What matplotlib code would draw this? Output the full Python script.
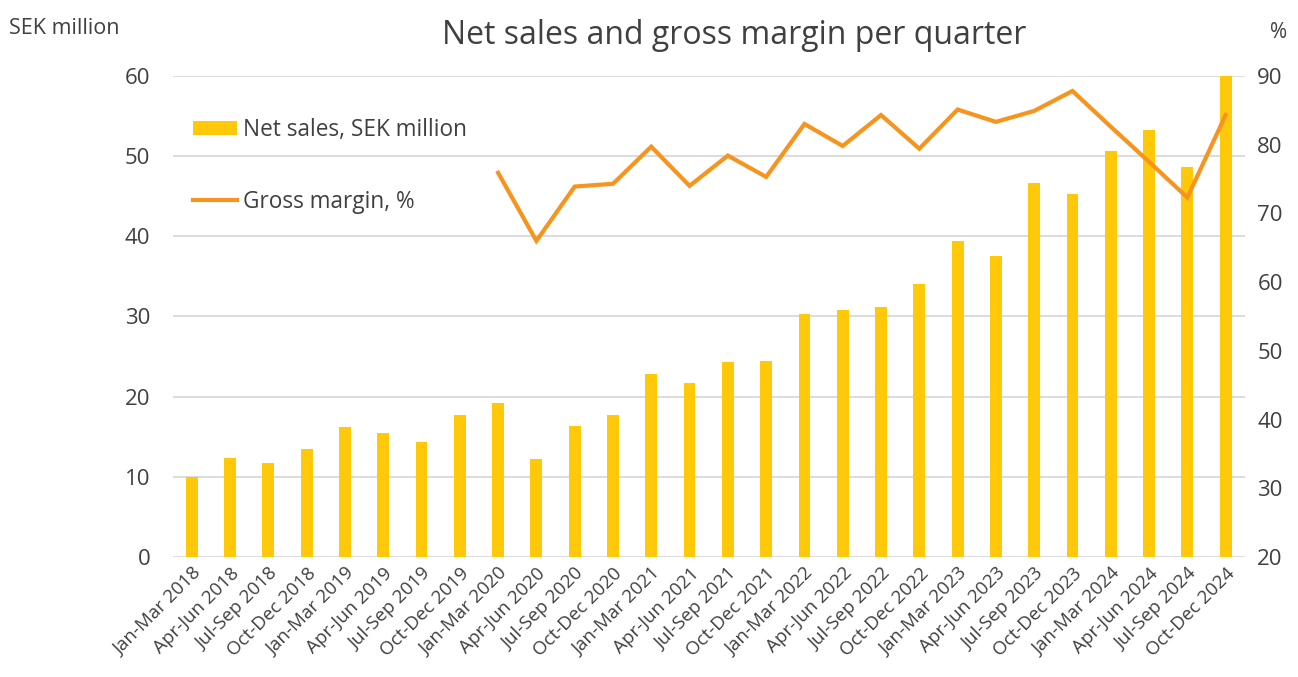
import matplotlib.pyplot as plt
import numpy as np

# Quarter labels
quarters = []
for year in range(2018, 2025):
    for q in ["Jan-Mar", "Apr-Jun", "Jul-Sep", "Oct-Dec"]:
        quarters.append(f"{q} {year}")

# Net sales, SEK million
net_sales = [10.0, 12.4, 11.8, 13.5, 16.2, 15.5, 14.4, 17.7,
             19.2, 12.2, 16.4, 17.7, 22.8, 21.7, 24.3, 24.5,
             30.3, 30.8, 31.2, 34.1, 39.4, 37.6, 46.6, 45.3,
             50.6, 53.2, 48.6, 60.0]

# Gross margin, % (starts Jan-Mar 2020)
gross_margin = [None] * 8 + [75.9, 66.0, 73.9, 74.3, 79.7, 74.0, 78.4, 75.3,
                             83.0, 79.8, 84.3, 79.4, 85.1, 83.3, 84.9, 87.8,
                             82.6, 77.5, 72.3, 84.3]

bar_color = "#FFC90A"
line_color = "#F7941D"
text_color = "#404040"
grid_color = "#D9D9D9"

plt.rcParams['font.family'] = ['Open Sans', 'DejaVu Sans']

fig = plt.figure(figsize=(12.98, 6.77), dpi=100)
ax = fig.add_axes([0.133, 0.177, 0.826, 0.711])
ax2 = ax.twinx()

x = np.arange(len(quarters))
ax.bar(x, net_sales, width=0.31, color=bar_color, label="Net sales, SEK million", zorder=2)

gm = np.array([np.nan if v is None else v for v in gross_margin], dtype=float)
ax2.plot(x, gm, color=line_color, linewidth=3.0, label="Gross margin, %",
         solid_joinstyle='miter', zorder=3)

ax.set_xlim(-0.5, len(quarters) - 0.5)
ax.set_ylim(0, 60)
ax.set_yticks(range(0, 61, 10))
ax2.set_ylim(20, 90)
ax2.set_yticks(range(20, 91, 10))

ax.grid(axis='y', color=grid_color, linewidth=1.3, zorder=0)
ax.set_axisbelow(True)

for a in (ax, ax2):
    for s in a.spines.values():
        s.set_visible(False)
    a.tick_params(length=0, labelsize=16, colors=text_color)

ax.tick_params(axis='y', pad=16)
ax2.tick_params(axis='y', pad=9)

ax.set_xticks(x)
ax.set_xticklabels(quarters, rotation=45, ha='right', rotation_mode='anchor',
                   fontsize=13.5, color=text_color)
ax.tick_params(axis='x', pad=5)

fig.text(0.566, 0.948, "Net sales and gross margin per quarter", ha='center', va='center',
         fontsize=23, color=text_color)
fig.text(0.007, 0.958, "SEK million", ha='left', va='center', fontsize=15.5, color=text_color)
fig.text(0.985, 0.952, "%", ha='center', va='center', fontsize=15, color=text_color)

h1, l1 = ax.get_legend_handles_labels()
h2, l2 = ax2.get_legend_handles_labels()
leg = ax2.legend(h1 + h2, l1 + l2, loc='upper left', bbox_to_anchor=(0.0187, 0.912),
                 frameon=False, fontsize=16.3, labelspacing=2.1, handlelength=1.95,
                 handleheight=0.55, handletextpad=0.27, borderaxespad=0, borderpad=0)
for t in leg.get_texts():
    t.set_color(text_color)

fig.savefig("out.png", dpi=100)
